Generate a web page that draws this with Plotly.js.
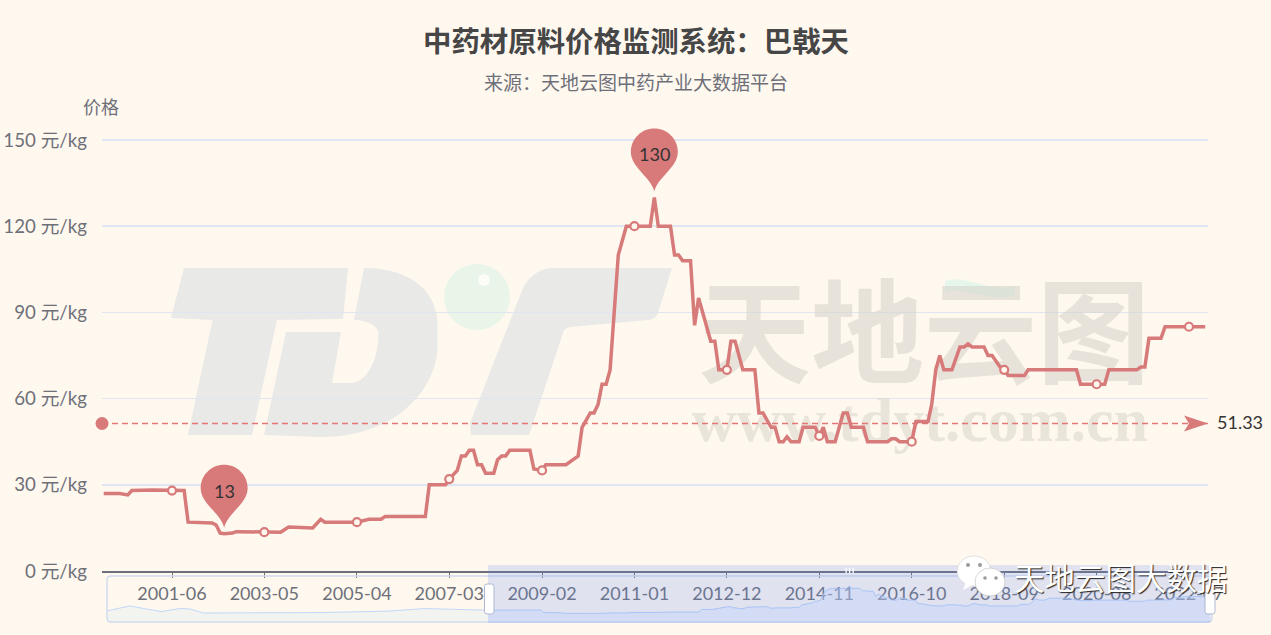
<!DOCTYPE html>
<html><head><meta charset="utf-8">
<script src="https://cdn.plot.ly/plotly-3.0.1.min.js"></script>
<style>html,body{margin:0;padding:0;background:#fff8ef;overflow:hidden}</style>
</head><body><div id="chart" style="width:1271px;height:635px"></div>
<script>
const months = ["2000-01","2000-05","2000-07","2000-08","2001-01","2001-06","2001-09","2001-10","2002-03","2002-04",
"2002-05","2002-06","2002-07","2002-09","2002-10","2003-05","2003-09","2003-11","2004-05","2004-07",
"2004-08","2005-04","2005-07","2005-10","2005-11","2006-09","2006-10","2007-02","2007-03","2007-05",
"2007-06","2007-07","2007-08","2007-09","2007-10","2007-11","2007-12","2008-02","2008-03","2008-04",
"2008-05","2008-06","2008-11","2008-12","2009-02","2009-03","2009-08","2009-11","2009-12","2010-02",
"2010-03","2010-04","2010-05","2010-06","2010-07","2010-09","2010-11","2011-01","2011-05","2011-06",
"2011-07","2011-10","2011-11","2011-12","2012-01","2012-03","2012-04","2012-05","2012-08","2012-09",
"2012-10","2012-12","2013-01","2013-02","2013-04","2013-07","2013-08","2013-09","2013-11","2013-12",
"2014-01","2014-02","2014-03","2014-04","2014-06","2014-07","2014-10","2014-11","2014-12","2015-01",
"2015-03","2015-05","2015-06","2015-07","2015-10","2015-11","2016-04","2016-05","2016-06","2016-07",
"2016-10","2016-11","2017-02","2017-03","2017-04","2017-05","2017-06","2017-08","2017-10","2017-11",
"2017-12","2018-01","2018-04","2018-05","2018-06","2018-08","2018-09","2018-10","2019-02","2019-03",
"2020-03","2020-04","2020-08","2020-10","2020-11","2021-06","2021-07","2021-08","2021-09","2021-12",
"2022-01","2022-07","2022-11"];
const prices = [27,27,26.5,28,28.2,28,28,17,17,16.7,
16,13.2,13,13.2,13.7,13.5,13.5,15.3,15,18,
17,17,18,18,19,19,30,30,32,35,
40,40,42,42,37,37,34,34,38.7,40,
40,42,42,35.5,35,37,37,40,50,55,
55,58,65,65,70,110,120,120,120,130,
120,120,110,110,108,108,85.5,95,80,80,
70,70,80,80,70,70,55,55,50,50,
45,45,46.7,45,45,50,50,47,50,45,
45,55,55,50,50,45,45,46,46,45,
45,52,52,58,70,75,70,70,78,78,
79,78,78,75,75,71,70,68,68,70,
70,65,65,65,70,70,71,71,81,81,
85,85,85];
// months with the ring marker and the x axis tick
const ringMonths = ["2001-06","2003-05","2005-04","2007-03","2009-02","2011-01","2012-12","2014-11","2016-10","2018-09","2020-08","2022-07"];
const ringPrices = [28,13.5,17,32,35,120,70,47,45,70,65,85];
const extremeMonths = ["2002-07","2011-06"];
const extremePrices = [13,130];
const averagePrice = 51.33;
const yTicks = [0,30,60,90,120,150];
const yTickLabels = ["0 元/kg","30 元/kg","60 元/kg","90 元/kg","120 元/kg","150 元/kg"];
// overview strip: earlier history shown only in the range slider
const earlyMonths = ["1987-12","1988-09","1989-09","1990-04","1990-08","1991-01","1994-11","1996-11","1998-01","1999-12"];
const earlyPrices = [23,45,21,34,32,15,17,23,34,28];

const L=102,R=50,T=60,B=10,W=1271,H=635,PW=W-L-R,PH=H-T-B;
const px=x=>(x-L)/PW, py=y=>(H-B-y)/PH;
const C='#d87a7a', TXT='#6e7079';
const FONT='Lato, "Noto Sans CJK SC", sans-serif', CJK='"Noto Sans CJK SC", sans-serif';
const xRange=["1999-12-19","2022-11-22"];
const miniRange=["1987-12-15","2022-11-01"];
const miniBottom=-23.4, miniTop=172.8;
const yTop=170, yTopPx=571-170*431/150;

function P(str){return str.replace(/(-?[\d.]+),(-?[\d.]+)/g,(m,a,b)=>px(+a).toFixed(5)+','+py(+b).toFixed(5));}
function paperShape(path,fill,layer,extra){return Object.assign({type:'path',xref:'paper',yref:'paper',path:P(path),fillcolor:fill,line:{width:0},layer:layer},extra||{});}
function box(x0,y0,x1,y1,fill,line,layer){return {type:'rect',xref:'paper',yref:'paper',x0:px(x0),x1:px(x1),y0:py(y1),y1:py(y0),fillcolor:fill,line:line||{width:0},layer:layer||'above'};}
function round(x0,y0,x1,y1,r){return `M${x0+r},${y0} L${x1-r},${y0} Q${x1},${y0} ${x1},${y0+r} L${x1},${y1-r} Q${x1},${y1} ${x1-r},${y1} L${x0+r},${y1} Q${x0},${y1} ${x0},${y1-r} L${x0},${y0+r} Q${x0},${y0} ${x0+r},${y0} Z`;}
function circ(cx,cy,rx,ry,fill,line){return {type:'circle',xref:'paper',yref:'paper',x0:px(cx-rx),x1:px(cx+rx),y0:py(cy+ry),y1:py(cy-ry),fillcolor:fill,line:line||{width:0},layer:'above'};}
function note(x,y,text,font){return {xref:'paper',yref:'paper',x:px(x),y:py(y),xanchor:'center',yanchor:'middle',text:text,showarrow:false,font:font};}

const GREY='#e9e9e7';
const PIN='M0,6 C-3,20 -23.5,30 -23.5,45.5 C-23.5,58.5 -13,69 0,69 C13,69 23.5,58.5 23.5,45.5 C23.5,30 3,20 0,6 Z';
const logoT='M184,268 L348,268 L343,319 L277,320 L252,435 L188,435 L212.5,320 L171,318 Z';
const logoD='M364,268 C415,268 437.5,295 437.5,325 L437.5,347 C437,385 400,437 321,437 L264,435 L286,332 L341,332 L332,383 L350,383 C367,383 378.5,360 378.5,333 C378,325 365,320 354,320 Z';
const logoT2='M471,435 L470,423 L521,293 C527,277 540,268 552,268 L672,268 L658,313 C656,318 652,320 648,320 L570,327 C565,328 564,330 563,333 L529,435 Z';

const shapes=[
  paperShape(logoT,GREY,'below'),
  paperShape(logoD,GREY,'below'),
  paperShape(logoT2,GREY,'below'),
  Object.assign(circ(477,297,33,33,'#e8f5e8'),{layer:'below'}),
  Object.assign(circ(484,280,6,6,'#fbfdf6'),{layer:'below'}),
  paperShape('M945,281 C965,274 985,292 1015,286 L1015,296 C985,302 965,286 945,292 Z','#e6f6ea','below'),
  ...extremeMonths.map((m,i)=>({type:'path',xsizemode:'pixel',ysizemode:'pixel',xref:'x',yref:'y',xanchor:m,yanchor:extremePrices[i],path:PIN,fillcolor:C,line:{width:0},layer:'above'})),
  {type:'path',xsizemode:'pixel',ysizemode:'pixel',xref:'x',yref:'y',xanchor:xRange[1],yanchor:averagePrice,path:'M0,0 L-24,8 L-19,0 L-24,-8 Z',fillcolor:C,line:{width:0},layer:'above'},
  paperShape(round(107,576,1212,622,4),'rgba(0,0,0,0)','above',{line:{color:'#d2dbee',width:1.5}}),
  box(488,565,1210.6,623,'rgba(100,140,240,.2)'),
  paperShape(round(484.5,584,494,614,2.5),'#ffffff','above',{line:{color:'#acb8d1',width:1}}),
  paperShape(round(1205,584,1215,614,2.5),'#ffffff','above',{line:{color:'#acb8d1',width:1}}),
  box(845.5,568,846.8,573,'#ffffff'),box(849,568,850.3,573,'#ffffff'),box(852.5,568,853.8,573,'#ffffff'),
  circ(974,571,17,15,'#ffffff',{color:'#cccccc',width:.6}),
  paperShape('M966,582 L963,590 L973,585 Z','#ffffff','above'),
  circ(990,582,15,14,'#ffffff',{color:'#bbbbbb',width:.6}),
  circ(968,565,2,2,'#9a9a9a'),circ(980,565,2,2,'#9a9a9a'),
  circ(985,578,1.8,1.8,'#9a9a9a'),circ(996,578,1.8,1.8,'#9a9a9a')
];

const annotations=[
  note(636,81,'来源：天地云图中药产业大数据平台',{family:CJK,size:19,color:TXT}),
  note(101,106,'价格',{family:CJK,size:18,color:TXT}),
  note(1239.5,422,String(averagePrice),{family:FONT,size:18,color:'#333333'}),
  note(1121,577,'天地云图大数据',{family:CJK,size:30.5,color:'#ffffff',shadow:'1px 1px 1px #222222'}),
  ...extremeMonths.map((m,i)=>({xref:'x',yref:'y',x:m,y:extremePrices[i],yshift:43,text:String(extremePrices[i]),showarrow:false,font:{family:FONT,size:18,color:'#333333'}}))
];

const base={hoverinfo:'skip',showlegend:false,type:'scatter'};
const miniAxes={xaxis:'x2',yaxis:'y2'};
const traces=[
  Object.assign({},base,{mode:'text',x:['2017-01'],y:[78.5],text:['天地云图'],textposition:'middle center',textfont:{family:CJK,size:113,weight:700,color:'rgba(214,209,200,.55)'}}),
  Object.assign({},base,{mode:'text',x:['2016-12'],y:[50.5],text:['www.tdyt.com.cn'],textposition:'middle center',textfont:{family:'"Liberation Serif", serif',size:62,weight:700,color:'rgba(214,209,200,.5)'}}),
  Object.assign({},base,{mode:'lines+markers',x:[xRange[0],xRange[1]],y:[averagePrice,averagePrice],cliponaxis:false,line:{color:'#e27878',width:1.5,dash:'6px,4px'},marker:{color:C,opacity:1,size:[13,0],line:{width:0}}}),
  Object.assign({},base,{mode:'lines',x:months,y:prices,line:{color:'rgba(214,118,118,.97)',width:3.5}}),
  Object.assign({},base,{mode:'markers',x:ringMonths,y:ringPrices,marker:{symbol:'circle',size:8,color:'#fff8ef',line:{color:C,width:2.2}}}),
  Object.assign({},base,miniAxes,{mode:'lines',x:[earlyMonths[0],months[0]],y:[miniBottom,miniBottom],line:{width:0}}),
  Object.assign({},base,miniAxes,{mode:'lines',x:earlyMonths.concat(months[0]),y:earlyPrices.concat(prices[0]),fill:'tonexty',fillcolor:'rgba(195,223,245,.2)',line:{color:'rgba(175,205,250,.75)',width:1}}),
  Object.assign({},base,miniAxes,{mode:'lines',x:[months[0],months[months.length-1]],y:[miniBottom,miniBottom],line:{width:0}}),
  Object.assign({},base,miniAxes,{mode:'lines',x:months,y:prices,fill:'tonexty',fillcolor:'rgba(215,228,255,.4)',line:{color:'rgba(175,205,250,.85)',width:1}})
];

const layout={
  width:W,height:H,autosize:false,showlegend:false,hovermode:false,
  margin:{l:L,r:R,t:T,b:B,pad:0},
  paper_bgcolor:'#fff8ef',plot_bgcolor:'rgba(0,0,0,0)',
  font:{family:FONT,color:TXT},
  title:{text:'中药材原料价格监测系统：巴戟天',x:636/W,xanchor:'center',y:1-42/H,yanchor:'middle',font:{family:CJK,size:28.4,weight:700,color:'#464646'}},
  xaxis:{type:'date',domain:[0,px(1208)],range:xRange,anchor:'y',
    tickmode:'array',tickvals:ringMonths,ticktext:ringMonths,ticks:'outside',ticklen:5,tickcolor:TXT,
    showline:true,linecolor:TXT,linewidth:1.5,showgrid:false,zeroline:false,
    tickfont:{family:FONT,size:18,color:TXT},ticklabelstandoff:1},
  yaxis:{domain:[py(571),py(yTopPx)],range:[0,yTop],anchor:'x',tickmode:'array',tickvals:yTicks,ticktext:yTickLabels,
    showgrid:true,gridcolor:'#e0e6f1',gridwidth:1.5,zeroline:false,showline:false,ticks:'',
    tickfont:{family:FONT,size:18.7,color:TXT},ticklabelstandoff:14},
  xaxis2:{type:'date',domain:[px(107),px(1210.6)],range:miniRange,anchor:'y2',visible:false},
  yaxis2:{domain:[py(622),py(576)],range:[miniBottom,miniTop],anchor:'x2',visible:false},
  shapes:shapes,annotations:annotations
};
Plotly.newPlot('chart',traces,layout,{displayModeBar:false,staticPlot:true});
</script></body></html>
